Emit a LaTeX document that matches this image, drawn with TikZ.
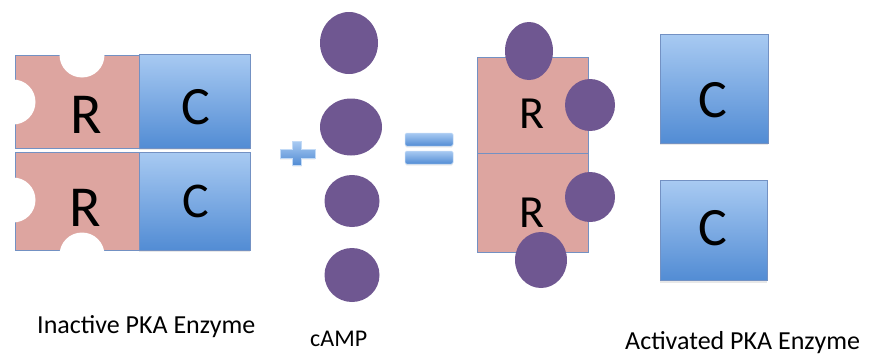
\documentclass[tikz,border=0pt]{standalone}
\usepackage{fontspec}
\setmainfont{Carlito}
\usetikzlibrary{shadows,shapes.geometric}

\definecolor{regpink}{RGB}{221,165,160}
\definecolor{edgeblue}{RGB}{115,145,195}
\definecolor{ctop}{RGB}{168,202,242}
\definecolor{cbot}{RGB}{82,140,212}
\definecolor{camp}{RGB}{111,87,145}

\tikzset{
  regbox/.style={draw=edgeblue, line width=0.6pt, fill=regpink, inner sep=0pt},
  catbox/.style={draw=edgeblue, line width=0.6pt, top color=ctop, bottom color=cbot,
                 inner sep=0pt, drop shadow={opacity=0.18, shadow xshift=0pt, shadow yshift=-2pt}},
  letter/.style={inner sep=0pt, text=black},
  molecule/.style={ellipse, fill=camp, inner sep=0pt},
  notch/.style={circle, fill=white, inner sep=0pt, minimum size=45pt},
  sign/.style={draw=ctop!70!white, line width=0.5pt, top color=ctop, bottom color=cbot,
               drop shadow={opacity=0.15, shadow xshift=0pt, shadow yshift=-1.5pt}},
  caption/.style={inner sep=0pt, anchor=base west, font=\fontsize{26}{30}\selectfont}
}

\begin{document}
\begin{tikzpicture}[x=1pt, y=-1pt]
\useasboundingbox (0,0) rectangle (869,356);

% ---- inactive holoenzyme: two R subunits, each holding a C subunit ----
\node[regbox, minimum width=124pt, minimum height=93pt] (r1) at (77,101.5) {};
\node[catbox, minimum width=111pt, minimum height=94pt] (c1) at (194.5,101) {};
\node[regbox, minimum width=124pt, minimum height=98pt] (r2) at (77,201) {};
\node[catbox, minimum width=111pt, minimum height=98pt] (c2) at (194.5,201) {};

% empty cAMP binding sites cut into the R subunits
\node[notch] (n1) at (82,55) {};
\node[notch] (n2) at (13,102) {};
\node[notch] (n3) at (13,200) {};
\node[notch] (n4) at (82,255) {};

\node[letter, font=\fontsize{58}{60}\selectfont] (r1t) at (86,115) {R};
\node[letter, font=\fontsize{54}{56}\selectfont] (c1t) at (196,107) {C};
\node[letter, font=\fontsize{58}{60}\selectfont] (r2t) at (85,208) {R};
\node[letter, font=\fontsize{50}{52}\selectfont] (c2t) at (196,201) {C};

% ---- plus sign ----
\path[sign] (292.5,149) -- (292.5,141.5) -- (301.5,141.5) -- (301.5,149) -- (315,149)
  -- (315,158) -- (301.5,158) -- (301.5,165) -- (292.5,165) -- (292.5,158)
  -- (280,158) -- (280,149) -- cycle;

% ---- four cAMP molecules ----
\node[molecule, minimum width=58pt, minimum height=62pt] (m1) at (349,43) {};
\node[molecule, minimum width=62pt, minimum height=57pt] (m2) at (351,127) {};
\node[molecule, minimum width=55pt, minimum height=52pt] (m3) at (352,201) {};
\node[molecule, minimum width=55pt, minimum height=54pt] (m4) at (352,275) {};

% ---- equals sign ----
\path[sign, rounded corners=1.5pt] (405,133) rectangle (453,146);
\path[sign, rounded corners=1.5pt] (405,151) rectangle (453,164);

% ---- R dimer with cAMP bound ----
\node[regbox, minimum width=111pt, minimum height=96pt] (r3) at (532.5,105) {};
\node[regbox, minimum width=111pt, minimum height=99pt] (r4) at (532.5,202.5) {};
\node[letter, font=\fontsize{46}{48}\selectfont] (r3t) at (532,114) {R};
\node[letter, font=\fontsize{46}{48}\selectfont] (r4t) at (532,213) {R};

\node[molecule, minimum width=48pt, minimum height=58pt] (b1) at (529,51) {};
\node[molecule, minimum width=50pt, minimum height=52pt] (b2) at (590,105) {};
\node[molecule, minimum width=50pt, minimum height=50pt] (b3) at (590,197) {};
\node[molecule, minimum width=52pt, minimum height=56pt] (b4) at (541,260) {};

% ---- freed catalytic subunits ----
\node[catbox, minimum width=108pt, minimum height=109pt] (c3) at (714,88.5) {};
\node[catbox, minimum width=107pt, minimum height=100pt] (c4) at (713.5,230.5) {};
\node[letter, font=\fontsize{54}{56}\selectfont] (c3t) at (713,100) {C};
\node[letter, font=\fontsize{54}{56}\selectfont] (c4t) at (713,228) {C};

% ---- captions ----
\node[caption] (lab1) at (37,333) {Inactive PKA Enzyme};
\node[caption, font=\fontsize{24}{28}\selectfont] (lab2) at (310,346) {cAMP};
\node[caption] (lab3) at (625,349) {Activated PKA Enzyme};
\end{tikzpicture}
\end{document}
